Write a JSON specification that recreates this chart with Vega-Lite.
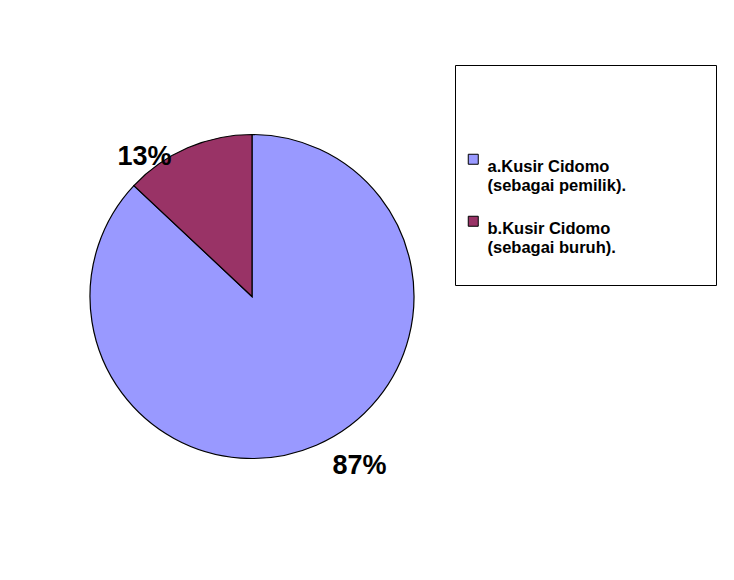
{
  "$schema": "https://vega.github.io/schema/vega-lite/v6.json",
  "width": 444,
  "height": 537,
  "autosize": {"type": "none"},
  "padding": {"left": 30, "top": 28, "right": 260, "bottom": 15},
  "background": "white",
  "config": {"view": {"stroke": null}},
  "data": {
    "values": [
      {"category": "a.Kusir Cidomo (sebagai pemilik).", "value": 87, "label": "87%"},
      {"category": "b.Kusir Cidomo (sebagai buruh).", "value": 13, "label": "13%"}
    ]
  },
  "encoding": {
    "theta": {"field": "value", "type": "quantitative", "stack": true},
    "order": {"field": "category", "type": "nominal"}
  },
  "layer": [
    {
      "mark": {"type": "arc", "outerRadius": 162, "stroke": "black", "strokeWidth": 1.2},
      "encoding": {
        "color": {
          "field": "category",
          "type": "nominal",
          "scale": {"range": ["#9999FF", "#993366"]},
          "legend": {
            "orient": "none",
            "legendX": 425,
            "legendY": 37,
            "title": "\u2800\u2800\u2800\u2800\u2800\u2800\u2800\u2800\u2800\u2800\u2800\u2800\u2800\u2800\u2800\u2800\u2800\u2800\u2800\u2800\u2800\u2800",
            "titleFont": "DejaVu Sans",
            "titleFontSize": 14,
            "titleLimit": 400,
            "titlePadding": 62,
            "strokeColor": "black",
            "fillColor": "white",
            "padding": 10,
            "symbolType": "square",
            "symbolSize": 100,
            "symbolStrokeColor": "black",
            "symbolStrokeWidth": 1,
            "symbolOpacity": 1,
            "labelExpr": "[slice(datum.label, 0, 14), slice(datum.label, 15), '']",
            "labelFont": "Liberation Sans",
            "labelFontWeight": "bold",
            "labelFontSize": 16.5,
            "labelLineHeight": 22,
            "labelColor": "black",
            "labelLimit": 300,
            "labelBaseline": "top",
            "labelOffset": 6,
            "rowPadding": 0
          }
        }
      }
    },
    {
      "mark": {"type": "text", "radius": 188, "thetaOffset": -0.2, "dy": 15, "font": "Liberation Sans", "fontWeight": "bold", "fontSize": 27, "color": "black"},
      "encoding": {"text": {"field": "label", "type": "nominal"}}
    }
  ]
}
